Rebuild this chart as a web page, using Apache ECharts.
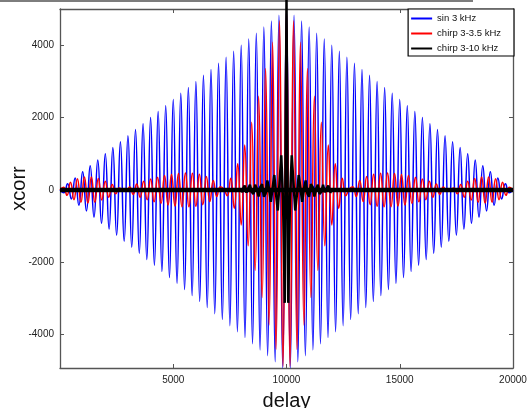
<!DOCTYPE html>
<html><head><meta charset="utf-8">
<script src="https://cdn.jsdelivr.net/npm/echarts@6.0.0/dist/echarts.min.js"></script>
<style>html,body{margin:0;padding:0;background:#fff}#c{width:529px;height:408px}</style>
</head><body><div id="c"></div>
<script>
const seriesNames = ['sin 3 kHz', 'chirp 3-3.5 kHz', 'chirp 3-10 kHz'];
const xLabelTicks = [5000, 10000, 15000, 20000];

// sin 3 kHz : extrema (delay, xcorr)
const blueDelay = [
  0,167,333,500,667,833,1000,1167,1333,1500,1667,1833,2000,2167,2333,2500,2667,2833,
  3000,3167,3333,3500,3667,3833,4000,4167,4333,4500,4667,4833,5000,5167,5333,5500,5667,5833,
  6000,6167,6333,6500,6667,6833,7000,7167,7333,7500,7667,7833,8000,8167,8333,8500,8667,8833,
  9000,9167,9333,9500,9667,9833,10000,10167,10333,10500,10667,10833,11000,11167,11333,11500,11667,11833,
  12000,12167,12333,12500,12667,12833,13000,13167,13333,13500,13667,13833,14000,14167,14333,14500,14667,14833,
  15000,15167,15333,15500,15667,15833,16000,16167,16333,16500,16667,16833,17000,17167,17333,17500,17667,17833,
  18000,18167,18333,18500,18667,18833,19000,19167,19333,19500,19667,19833,20000];
const blueValue = [
  0,-80,170,-250,330,-420,500,-580,670,-750,830,-920,1000,-1080,1170,-1250,1330,-1420,
  1500,-1580,1670,-1750,1830,-1920,2000,-2080,2170,-2250,2330,-2420,2500,-2580,2670,-2750,2830,-2920,
  3000,-3080,3170,-3250,3330,-3420,3500,-3580,3670,-3750,3830,-3920,4000,-4080,4170,-4250,4330,-4420,
  4500,-4580,4670,-4750,4830,-4920,5000,-4920,4830,-4750,4670,-4580,4500,-4420,4330,-4250,4170,-4080,
  4000,-3920,3830,-3750,3670,-3580,3500,-3420,3330,-3250,3170,-3080,3000,-2920,2830,-2750,2670,-2580,
  2500,-2420,2330,-2250,2170,-2080,2000,-1920,1830,-1750,1670,-1580,1500,-1420,1330,-1250,1170,-1080,
  1000,-920,830,-750,670,-580,500,-420,330,-250,170,-80,0];

// chirp 3-3.5 kHz : extrema (delay, xcorr)
const redDelay = [
  0,154,308,462,615,769,923,1077,1231,1385,1538,1692,1846,
  2000,2154,2308,2462,2615,2769,2923,3077,3231,3385,3538,3692,3846,
  4000,4154,4308,4462,4615,4769,4923,5077,5231,5385,5538,5692,5846,
  6000,6154,6308,6462,6615,6769,6923,7077,7231,7385,7538,7692,7846,
  8000,8154,8308,8462,8615,8769,8923,9077,9231,9385,9538,9692,9846,
  10000,10154,10308,10462,10615,10769,10923,11077,11231,11385,11538,11692,11846,
  12000,12154,12308,12462,12615,12769,12923,13077,13231,13385,13538,13692,13846,
  14000,14154,14308,14462,14615,14769,14923,15077,15231,15385,15538,15692,15846,
  16000,16154,16308,16462,16615,16769,16923,17077,17231,17385,17538,17692,17846,
  18000,18154,18308,18462,18615,18769,18923,19077,19231,19385,19538,19692,19846,20000];
const redValue = [
  0,76,-148,213,-268,311,-341,359,-364,357,-340,314,-281,
  242,-199,153,-106,57,-9,-37,82,-125,165,-202,237,-270,
  300,-328,353,-376,396,-414,430,-444,454,-462,466,-466,461,
  -450,432,-406,370,-322,261,-184,90,25,-161,323,-509,725,
  -968,1241,-1543,1870,-2222,2590,-2972,3354,-3731,4084,-4404,4674,-4878,
  5000,-4878,4674,-4404,4084,-3731,3354,-2972,2590,-2222,1870,-1543,1241,
  -968,725,-509,323,-161,25,90,-184,261,-322,370,-406,432,
  -450,461,-466,466,-462,454,-444,430,-414,396,-376,353,-328,
  300,-270,237,-202,165,-125,82,-37,-9,57,-106,153,-199,
  242,-281,314,-340,357,-364,359,-341,311,-268,213,-148,76,0];

// chirp 3-10 kHz : broad low-level band and detailed centre lobe
const blackBandDelay = [0, 20000];
const blackBandValue = [0, 0];
const blackDelay = [
  8000,8077,8154,8231,8308,8385,8462,8538,8615,8692,8769,8846,8923,
  9000,9077,9154,9231,9308,9385,9462,9538,9615,9692,9769,9846,9923,
  10000,10077,10154,10231,10308,10385,10462,10538,10615,10692,10769,10846,10923,
  11000,11077,11154,11231,11308,11385,11462,11538,11615,11692,11769,11846,11923,12000];
const blackValue = [
  -67,-46,122,-73,-64,140,-51,-115,146,24,-182,86,160,
  -184,-101,261,27,-328,49,413,-125,-568,201,955,-277,-3120,
  5250,-3120,-277,955,201,-568,-125,413,49,-328,27,261,-101,
  -184,160,86,-182,24,146,-115,-51,140,-64,-73,122,-46,-67];

const pairs = (xs, ys) => xs.map((x, i) => [x, ys[i]]);
const FONT = '"Liberation Sans", Arial, Helvetica, sans-serif';
const AX = '#555';

const chart = echarts.init(document.getElementById('c'), null, {renderer: 'canvas'});
const baseX = {
  type: 'value', min: 0, max: 20000, interval: 5000,
  axisLine: {onZero: false, lineStyle: {color: AX, width: 1.3}},
  axisTick: {inside: true, length: 4, lineStyle: {color: AX, width: 1}},
  splitLine: {show: false}
};
const baseY = {
  type: 'value', min: -4920, max: 5000, splitNumber: 5,
  axisLine: {show: true, onZero: false, lineStyle: {color: AX, width: 1.3}},
  axisTick: {show: true, inside: true, length: 4, lineStyle: {color: AX, width: 1}},
  splitLine: {show: false}
};
chart.setOption({
  animation: false,
  backgroundColor: '#fff',
  grid: {left: 60, right: 16, top: 9, bottom: 40, containLabel: false, outerBoundsMode: 'none'},
  graphic: [{type: 'rect', silent: true, shape: {x: 0, y: 0, width: 473, height: 2}, style: {fill: '#7d7d7d'}}],
  legend: {
    orient: 'vertical', right: 15, top: 9, z: 10,
    backgroundColor: '#fff', borderColor: '#000', borderWidth: 1.2,
    padding: [4, 13, 2, 3], itemGap: 4, itemWidth: 21, itemHeight: 2, icon: 'rect',
    textStyle: {fontSize: 9.5, fontFamily: FONT, color: '#111', lineHeight: 11},
    data: seriesNames
  },
  xAxis: [
    Object.assign({}, baseX, {
      position: 'bottom',
      axisLabel: {showMinLabel: false, color: '#222', fontSize: 10, fontFamily: FONT, margin: 7,
        formatter: v => (xLabelTicks.indexOf(v) >= 0 ? String(v) : '')},
      name: 'delay', nameLocation: 'middle', nameGap: 23, nameMoveOverlap: false,
      nameTextStyle: {fontSize: 20, fontFamily: FONT, color: '#111'}
    }),
    Object.assign({}, baseX, {position: 'top', axisLabel: {show: false}})
  ],
  yAxis: [
    Object.assign({}, baseY, {
      position: 'left',
      axisLabel: {showMinLabel: false, showMaxLabel: false, color: '#222', fontSize: 10, fontFamily: FONT, margin: 6,
        formatter: v => String(v)},
      name: 'xcorr', nameLocation: 'middle', nameGap: 31, nameRotate: 90, nameMoveOverlap: false,
      nameTextStyle: {fontSize: 20, fontFamily: FONT, color: '#111'}
    }),
    Object.assign({}, baseY, {position: 'right', axisLabel: {show: false}})
  ],
  series: [
    {name: seriesNames[0], type: 'line', data: pairs(blueDelay, blueValue), symbol: 'none', smooth: 0.5,
      lineStyle: {color: '#0000ff', width: 1.5}, itemStyle: {color: '#0000ff'}, z: 2},
    {name: seriesNames[1], type: 'line', data: pairs(redDelay, redValue), symbol: 'none', smooth: 0.5,
      lineStyle: {color: '#ff0000', width: 1.5}, itemStyle: {color: '#ff0000'}, z: 3},
    {name: seriesNames[2], type: 'line', data: pairs(blackBandDelay, blackBandValue), symbol: 'none',
      lineStyle: {color: '#000', width: 4.5}, itemStyle: {color: '#000'}, z: 4},
    {name: seriesNames[2], type: 'line', data: pairs(blackDelay, blackValue), symbol: 'none', clip: false,
      lineStyle: {color: '#000', width: 2.5}, itemStyle: {color: '#000'}, z: 5}
  ]
});
</script></body></html>
